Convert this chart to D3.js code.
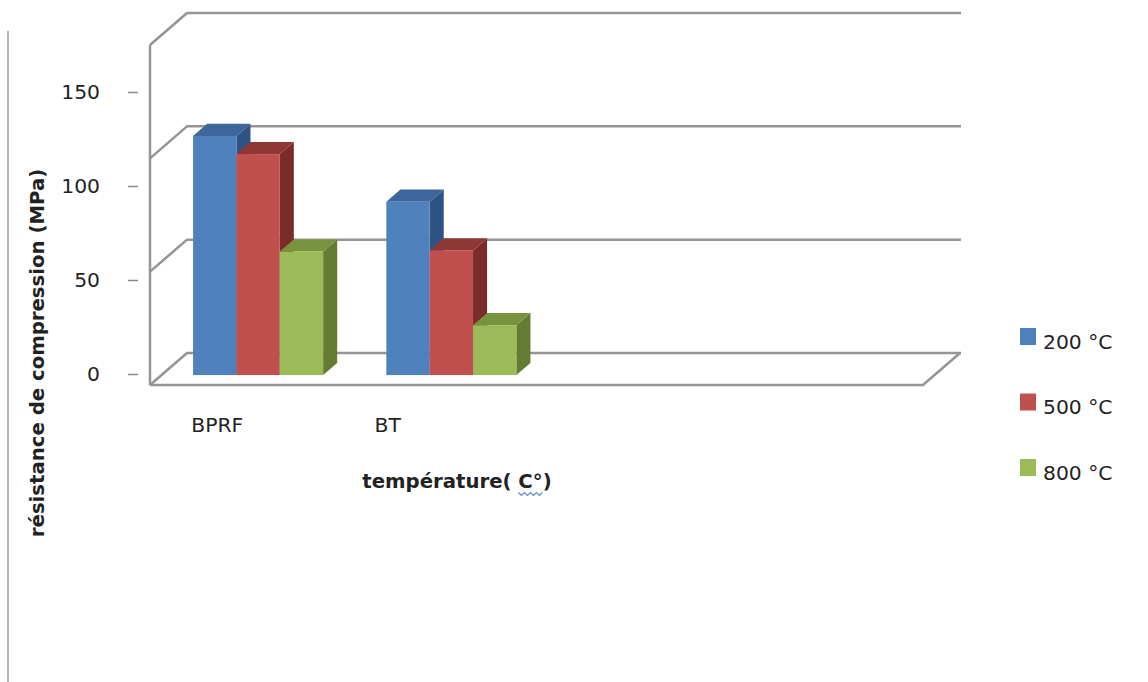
<!DOCTYPE html>
<html>
<head>
<meta charset="utf-8">
<script src="https://cdn.jsdelivr.net/npm/d3@7"></script>
<style>
  html, body { margin: 0; padding: 0; background: #fff; }
  svg { display: block; }
  text { font-family: "DejaVu Sans", sans-serif; fill: #222; }
</style>
</head>
<body>
<svg id="chart" width="1148" height="682"></svg>
<script>
// Compressive strength (MPa) after exposure to each temperature
const categories = ["BPRF", "BT", "", ""];
const seriesNames = ["200 °C", "500 °C", "800 °C"];
const values200 = [105.5, 76.5, null, null];
const values500 = [97.5, 55, null, null];
const values800 = [54.5, 22, null, null];
const tickValues = [0, 50, 100, 150];

const seriesValues = [values200, values500, values800];
const faceColors = [
  { front: "#4F81BD", top: "#3D679B", side: "#2F5385" },
  { front: "#C0504D", top: "#8F3735", side: "#7B2C2A" },
  { front: "#9BBB59", top: "#77933D", side: "#637C32" }
];

const svg = d3.select("#chart");

// 3D box: front floor edge, and the depth vector towards the back wall
const floorLeft = 150, floorRight = 923;
const depth = { dx: 37, dy: -32 };
const barDepthStart = 0.31, barDepth = 0.38;

// value scale on the front plane of the box
const y = d3.scaleLinear().domain([0, 150]).range([385, 45]);
// scale used for the printed tick labels on the left axis
const yLabel = d3.scaleLinear().domain([0, 150]).range([374, 92]);

const slots = d3.scaleBand()
  .domain(d3.range(categories.length))
  .range([floorLeft, floorRight])
  .paddingInner(0.327)
  .paddingOuter(0.1635);
const sub = d3.scaleBand()
  .domain(d3.range(seriesNames.length))
  .range([0, slots.bandwidth()]);
const labelX = d3.scaleBand()
  .domain(d3.range(categories.length))
  .range([132, 814]);

const gridColor = "#959595";
const labelSize = 20.3;
const titleSize = 19.7;

// page border line on the left
svg.append("line")
  .attr("x1", 8).attr("x2", 8).attr("y1", 31).attr("y2", 682)
  .attr("stroke", "#b4b4b4").attr("stroke-width", 2);

// walls: gridlines on the back wall and their returns on the left wall
const walls = svg.append("g").attr("fill", "none")
  .attr("stroke", gridColor).attr("stroke-width", 2.5)
  .attr("stroke-linejoin", "round");
tickValues.forEach(v => {
  const yf = y(v);
  walls.append("path").attr("d", d3.line()([
    [floorLeft, yf],
    [floorLeft + depth.dx, yf + depth.dy],
    [floorRight + depth.dx + 1, yf + depth.dy]
  ]));
});
// left wall front edge
walls.append("line")
  .attr("x1", floorLeft).attr("x2", floorLeft)
  .attr("y1", y(150)).attr("y2", y(0));
// floor outline
walls.append("path").attr("d", d3.line()([
  [floorLeft, y(0)],
  [floorRight, y(0)],
  [floorRight + depth.dx, y(0) + depth.dy]
]));

// bars drawn as boxes: side, top, then front face
const bars = svg.append("g");
categories.forEach((cat, ci) => {
  seriesValues.forEach((vals, si) => {
    const v = vals[ci];
    if (v == null) return;
    const ox = barDepthStart * depth.dx, oy = barDepthStart * depth.dy;
    const bx = barDepth * depth.dx, by = barDepth * depth.dy;
    const x0 = slots(ci) + sub(si) + ox;
    const x1 = x0 + sub.bandwidth();
    const yb = y(0) + oy, yt = y(v) + oy;
    const c = faceColors[si];
    bars.append("path")
      .attr("d", d3.line()([[x1, yt], [x1 + bx, yt + by], [x1 + bx, yb + by], [x1, yb]]) + "Z")
      .attr("fill", c.side);
    bars.append("path")
      .attr("d", d3.line()([[x0, yt], [x0 + bx, yt + by], [x1 + bx, yt + by], [x1, yt]]) + "Z")
      .attr("fill", c.top);
    bars.append("rect")
      .attr("x", x0).attr("y", yt)
      .attr("width", x1 - x0).attr("height", yb - yt)
      .attr("fill", c.front);
  });
});

// value axis
const yAxis = d3.axisLeft(yLabel)
  .tickValues(tickValues)
  .tickSizeInner(10).tickSizeOuter(0)
  .tickPadding(28);
const ya = svg.append("g").attr("transform", "translate(138,0)").call(yAxis);
ya.select(".domain").remove();
ya.selectAll(".tick line").attr("stroke", "#8a8a8a").attr("stroke-width", 1.5);
ya.selectAll(".tick text")
  .attr("font-family", "DejaVu Sans, sans-serif")
  .attr("font-size", labelSize).attr("fill", "#222");

// category labels
svg.append("g").selectAll("text")
  .data(categories.map((c, i) => ({ c, i })).filter(d => d.c))
  .join("text")
  .attr("x", d => labelX(d.i) + labelX.bandwidth() / 2)
  .attr("y", 425)
  .attr("text-anchor", "middle")
  .attr("dominant-baseline", "central")
  .attr("font-size", labelSize)
  .text(d => d.c);

// axis titles
const xTitle = svg.append("text")
  .attr("x", 457).attr("y", 481)
  .attr("text-anchor", "middle")
  .attr("dominant-baseline", "central")
  .attr("font-size", titleSize).attr("font-weight", "bold")
  .text("température( C°)");

svg.append("text")
  .attr("transform", "translate(37,353) rotate(-90)")
  .attr("text-anchor", "middle")
  .attr("dominant-baseline", "central")
  .attr("font-size", titleSize).attr("font-weight", "bold")
  .text("résistance de compression (MPa)");

// wavy underline under "C°"
{
  const node = xTitle.node();
  const full = node.getComputedTextLength();
  const txt = node.textContent;
  const start = txt.indexOf("C°");
  const x0 = 457 - full / 2 + node.getSubStringLength(0, start);
  const w = node.getSubStringLength(start, 2);
  const pts = [];
  for (let i = 0; i <= Math.round(w / 3); i++) pts.push([x0 + i * 3, 494 + (i % 2 ? 1.5 : -1.5)]);
  svg.append("path").attr("d", d3.line()(pts))
    .attr("fill", "none").attr("stroke", "#5B8FD6").attr("stroke-width", 1.2);
}

// legend
const legend = svg.append("g");
seriesNames.forEach((name, i) => {
  const cy = 336.5 + i * 65.5;
  legend.append("rect")
    .attr("x", 1020).attr("y", cy - 8.5)
    .attr("width", 16).attr("height", 17)
    .attr("fill", faceColors[i].front);
  legend.append("text")
    .attr("x", 1043).attr("y", cy + 5)
    .attr("dominant-baseline", "central")
    .attr("font-size", labelSize)
    .text(name);
});
</script>
</body>
</html>
